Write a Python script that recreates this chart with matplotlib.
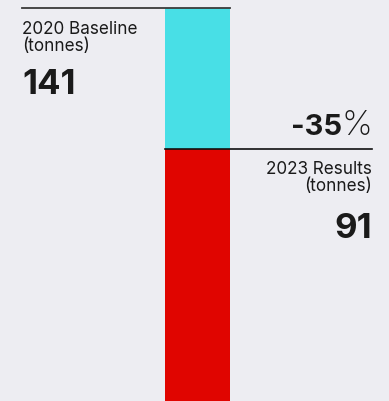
import matplotlib.pyplot as plt

# data
baseline = 141
results = 91
change_pct = -35
labels = ["2020 Baseline\n(tonnes)", "2023 Results\n(tonnes)"]

BG = "#ededf2"
CYAN = "#48dfe6"
RED = "#e00500"

plt.rcParams['font.family'] = ['Inter', 'DejaVu Sans']

fig = plt.figure(figsize=(3.89, 4.02), dpi=100, facecolor=BG)
ax = fig.add_axes([0, 0, 1, 1])
ax.set_facecolor(BG)

# scale: 50 tonnes gap spans ~141 px
ppu = 141 / (baseline - results)
ax.set_ylim(baseline - 393 / ppu, baseline + 9 / ppu)
ax.set_xlim(-0.4 - 165 / 81.25, 0.4 + 159 / 81.25)
ax.axis('off')

ax.bar(0, results, width=0.8, color=RED, zorder=2)
ax.bar(0, baseline - results, bottom=results, width=0.8, color=CYAN, zorder=2)

# reference lines
xl = -0.4 - 143 / 81.25
xr = 0.4 + 142 / 81.25
ax.plot([xl, 0.4], [baseline, baseline], color="#3a3a3a", lw=1.3, zorder=3)
ax.plot([-0.4, xr], [results, results], color="#111111", lw=1.2, zorder=3)

# left labels
ax.text(xl, baseline - 12 / ppu, labels[0], ha='left', va='top', fontsize=12.3,
        color="#1a1a1a", linespacing=1.0)
ax.text(xl, baseline - 85 / ppu, str(baseline), ha='left', va='baseline',
        fontsize=25, fontweight='bold', color="#1a1a1a")

# change
ax.text(xr - 30 / 81.25, results + 15 / ppu, f"{change_pct}", ha='right', va='baseline',
        fontsize=21, fontweight='bold', color="#1a1a1a")
ax.text(xr, results + 15 / ppu, "%", ha='right', va='baseline',
        fontsize=25, fontweight='light', color="#1a1a1a")

# right labels
ax.text(xr, results - 11 / ppu, labels[1], ha='right', va='top', fontsize=12.3,
        color="#1a1a1a", linespacing=1.0)
ax.text(xr, results - 88 / ppu, str(results), ha='right', va='baseline',
        fontsize=25, fontweight='bold', color="#1a1a1a")

fig.savefig("out.png", dpi=100, facecolor=BG)
